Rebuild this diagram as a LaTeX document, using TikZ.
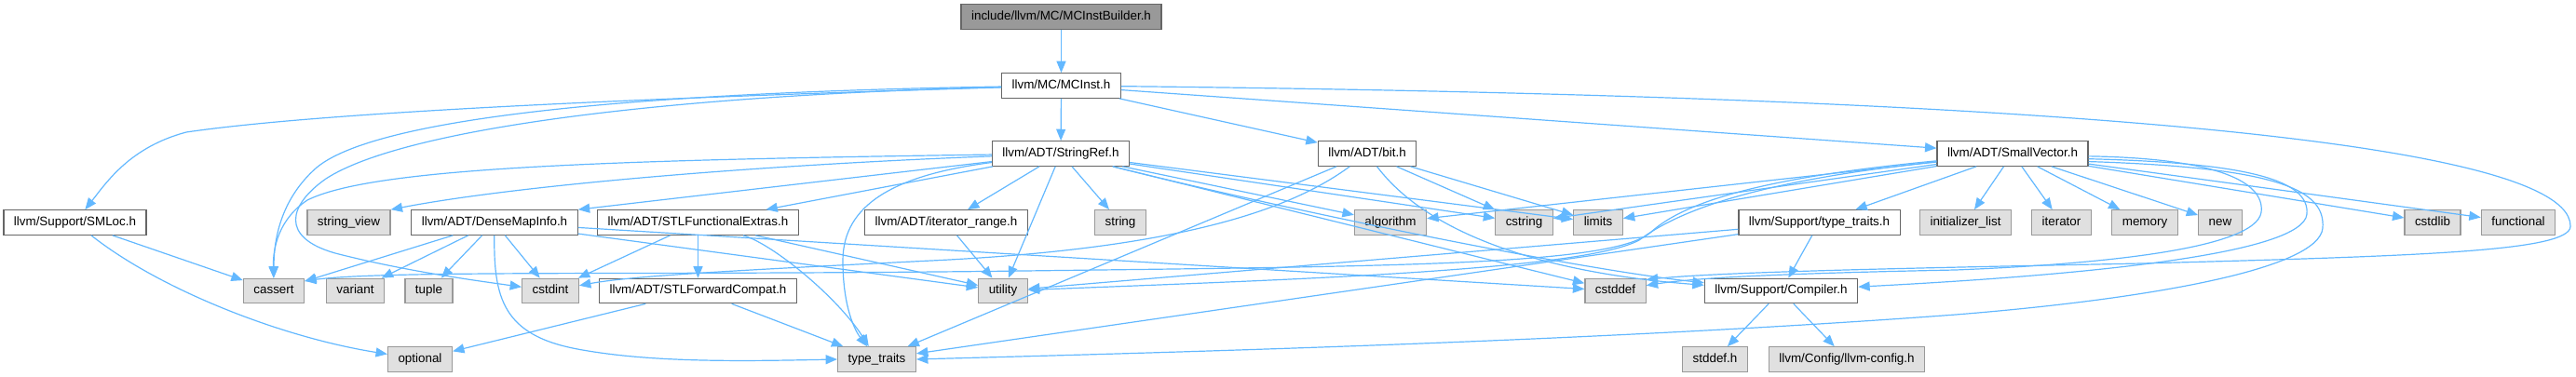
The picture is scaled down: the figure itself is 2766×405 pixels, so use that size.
\documentclass[tikz,border=0pt]{standalone}
\usepackage{fontspec}
\setmainfont{Liberation Sans}
\usetikzlibrary{arrows.meta}
\definecolor{edgec}{HTML}{63B8FF}
\definecolor{boxline}{HTML}{666666}
\definecolor{sysfill}{HTML}{E0E0E0}
\definecolor{sysline}{HTML}{999999}
\definecolor{mainfill}{HTML}{999999}
\begin{document}
\begin{tikzpicture}[x=0.5pt,y=-0.5pt,
  base/.style={draw, line width=0.6pt, minimum height=13.25pt, inner xsep=5.5pt, inner ysep=0pt,
    font=\fontsize{6.7}{8}\selectfont, text height=4.9pt, text depth=1.4pt},
  hdr/.style={base, draw=boxline, fill=white},
  sys/.style={base, draw=sysline, fill=sysfill},
  mainnode/.style={base, draw=boxline, fill=mainfill},
  dep/.style={draw=edgec, line width=0.6pt, -{Triangle[length=6.2pt,width=5pt]}}
]
\useasboundingbox (0,0) rectangle (2766,405);
% nodes
\node[mainnode] (builder) at (1139.5,18) {include/llvm/MC/MCInstBuilder.h};
\node[hdr] (mcinst) at (1139.5,92) {llvm/MC/MCInst.h};
\node[hdr] (stringref) at (1139,165) {llvm/ADT/StringRef.h};
\node[hdr] (bit) at (1468,165) {llvm/ADT/bit.h};
\node[hdr] (smallvec) at (2161,165) {llvm/ADT/SmallVector.h};
\node[hdr] (smloc) at (80.5,239) {llvm/Support/SMLoc.h};
\node[sys] (strview) at (374.5,239) {string\_view};
\node[hdr] (densemap) at (531,239) {llvm/ADT/DenseMapInfo.h};
\node[hdr] (stlfe) at (749.5,239) {llvm/ADT/STLFunctionalExtras.h};
\node[hdr] (iterrange) at (1016,239) {llvm/ADT/iterator\_range.h};
\node[sys] (stringh) at (1203,239) {string};
\node[sys] (algorithm) at (1493,239) {algorithm};
\node[sys] (cstring) at (1636.5,239) {cstring};
\node[sys] (limits) at (1716,239) {limits};
\node[hdr] (typetraitsh) at (1953.5,239) {llvm/Support/type\_traits.h};
\node[sys] (initlist) at (2110.5,239) {initializer\_list};
\node[sys] (iterator) at (2213.5,239) {iterator};
\node[sys] (memory) at (2303,239) {memory};
\node[sys] (newh) at (2384,239) {new};
\node[sys] (cstdlib) at (2612,239) {cstdlib};
\node[sys] (functional) at (2704,239) {functional};
\node[sys] (cassert) at (294,312.5) {cassert};
\node[sys] (variant) at (381.5,312.5) {variant};
\node[sys] (tuple) at (460.5,312.5) {tuple};
\node[sys] (cstdint) at (591,312.5) {cstdint};
\node[hdr] (stlfc) at (749.5,312.5) {llvm/ADT/STLForwardCompat.h};
\node[sys] (utility) at (1077,312.5) {utility};
\node[sys] (cstddef) at (1734.5,312.5) {cstddef};
\node[hdr] (compiler) at (1912.5,312.5) {llvm/Support/Compiler.h};
\node[sys] (optional) at (451,386) {optional};
\node[sys] (typetraits) at (941.5,386) {type\_traits};
\node[sys] (stddefh) at (1841.5,386) {stddef.h};
\node[sys] (llvmconfig) at (1983,386) {llvm/Config/llvm-config.h};
% edges: MCInstBuilder / MCInst
\draw[dep] (builder) -- (mcinst);
\draw[dep] (mcinst) .. controls (700,105) and (350,120) .. (200,142) .. controls (140,158) and (115,195) .. (smloc);
\draw[dep] (mcinst) .. controls (650,100) and (400,130) .. (340,180) .. controls (300,215) and (294,260) .. (cassert);
\draw[dep] (mcinst) .. controls (700,103) and (430,140) .. (350,192) .. controls (310,220) and (300,255) .. (360,272) .. controls (430,290) and (500,300) .. (cstdint);
\draw[dep] (mcinst) -- (stringref);
\draw[dep] (mcinst) -- (bit);
\draw[dep] (mcinst) -- (smallvec);
\draw[dep] (mcinst) .. controls (1900,100) and (2760,130) .. (2760,243) .. controls (2760,270) and (2600,275) .. (2300,283) .. controls (2050,288) and (1850,292) .. (cstddef.20);
% StringRef
\draw[dep] (stringref) .. controls (650,172) and (400,180) .. (330,215) .. controls (300,235) and (293,265) .. (cassert);
\draw[dep] (stringref) .. controls (800,178) and (550,200) .. (strview.north east);
\draw[dep] (stringref) -- (densemap.north east);
\draw[dep] (stringref) -- (stlfe);
\draw[dep] (stringref) .. controls (960,188) and (905,220) .. (905,280) .. controls (905,330) and (918,355) .. (typetraits);
\draw[dep] (stringref) -- (iterrange);
\draw[dep] (stringref) -- (utility);
\draw[dep] (stringref) -- (stringh);
\draw[dep] (stringref) -- (algorithm);
\draw[dep] (stringref) -- (cstring);
\draw[dep] (stringref) -- (limits);
\draw[dep] (stringref) -- (cstddef);
\draw[dep] (stringref) .. controls (1400,230) and (1700,290) .. (compiler);
% bit.h
\draw[dep] (bit) -- (typetraits);
\draw[dep] (bit) .. controls (1380,230) and (1250,268) .. (1000,280) .. controls (800,290) and (680,296) .. (cstdint);
\draw[dep] (bit) -- (cstring);
\draw[dep] (bit) -- (limits);
\draw[dep] (bit) .. controls (1540,260) and (1680,295) .. (compiler);
% SmallVector
\draw[dep] (smallvec) -- (typetraitsh);
\draw[dep] (smallvec) -- (initlist);
\draw[dep] (smallvec) -- (iterator);
\draw[dep] (smallvec) -- (memory);
\draw[dep] (smallvec) -- (newh);
\draw[dep] (smallvec) -- (cstdlib);
\draw[dep] (smallvec) -- (functional);
\draw[dep] (smallvec) -- (algorithm);
\draw[dep] (smallvec) -- (cstring);
\draw[dep] (smallvec) -- (limits);
\draw[dep] (smallvec.-2) .. controls (2380,170) and (2432,195) .. (2428,228) .. controls (2422,268) and (2250,284) .. (2100,290) .. controls (1950,293) and (1830,297) .. (cstddef.10);
\draw[dep] (smallvec.-4) .. controls (2420,175) and (2480,195) .. (2477,230) .. controls (2473,272) and (2250,295) .. (compiler.3);
\draw[dep] (smallvec.-6) .. controls (2450,180) and (2497,205) .. (2494,245) .. controls (2490,290) and (2300,322) .. (2100,338) .. controls (1700,368) and (1200,380) .. (typetraits.east);
\draw[dep] (smallvec) .. controls (1900,190) and (1810,215) .. (1772,250) .. controls (1730,285) and (1500,286) .. (1100,291) .. controls (700,296) and (420,290) .. (cassert.18);
\draw[dep] (smallvec) .. controls (1880,195) and (1800,228) .. (1760,258) .. controls (1700,290) and (1400,300) .. (utility);
% Support/type_traits.h
\draw[dep] (typetraitsh) -- (compiler);
\draw[dep] (typetraitsh) -- (utility);
\draw[dep] (typetraitsh) -- (typetraits);
% DenseMapInfo
\draw[dep] (densemap) -- (cassert);
\draw[dep] (densemap) -- (variant);
\draw[dep] (densemap) -- (tuple);
\draw[dep] (densemap) -- (cstdint);
\draw[dep] (densemap) -- (cstddef);
\draw[dep] (densemap) -- (utility);
\draw[dep] (densemap) .. controls (530,320) and (540,360) .. (620,375) .. controls (700,390) and (800,388) .. (typetraits.west);
% STLFunctionalExtras
\draw[dep] (stlfe) -- (stlfc);
\draw[dep] (stlfe) -- (cstdint);
\draw[dep] (stlfe) -- (utility);
\draw[dep] (stlfe) .. controls (830,262) and (900,320) .. (typetraits);
% STLForwardCompat
\draw[dep] (stlfc) -- (optional);
\draw[dep] (stlfc) -- (typetraits);
% iterator_range
\draw[dep] (iterrange) -- (utility);
% SMLoc
\draw[dep] (smloc) -- (cassert);
\draw[dep] (smloc) .. controls (170,310) and (300,362) .. (optional);
% Compiler.h
\draw[dep] (compiler) -- (stddefh);
\draw[dep] (compiler) -- (llvmconfig);
\end{tikzpicture}
\end{document}
